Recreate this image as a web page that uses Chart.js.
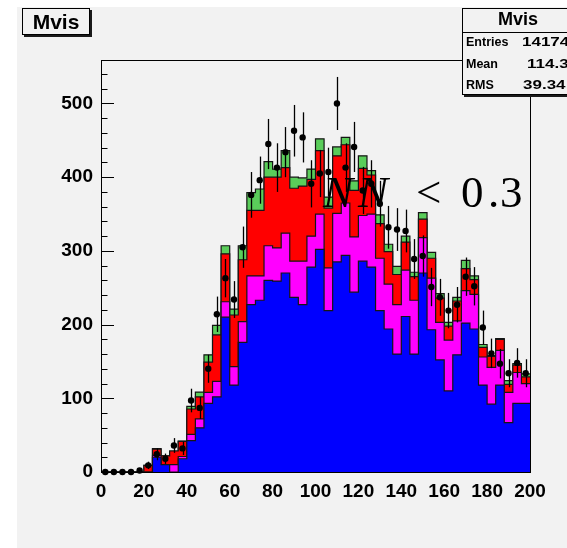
<!DOCTYPE html>
<html>
<head>
<meta charset="utf-8">
<script src="https://cdn.jsdelivr.net/npm/chart.js@4/dist/chart.umd.min.js"></script>
<style>
  html, body { margin: 0; padding: 0; background: #ffffff; }
  canvas { display: block; }
</style>
</head>
<body>
<canvas id="c" width="567" height="548"></canvas>
<script>
// Histogram binning (GeV), tick labels
const binLow = [0,4,8,12,16,20,24,28,32,36,40,44,48,52,56,60,64,68,72,76,80,84,88,92,96,
                100,104,108,112,116,120,124,128,132,136,140,144,148,152,156,160,164,168,172,176,180,184,188,192,196];
const binHigh = 200;
const xTicks = [0,20,40,60,80,100,120,140,160,180,200];
const yTicks = [0,100,200,300,400,500];

// Stacked MC components, per bin
const blue    = [0,0,0,0,0, 0,20,10,0,18, 42.5,60,93,102,210, 118,176,227,233,260, 259,270,237,227,278,
                 302,219,285,294,244, 286,278,219,194,160, 211,160,270,193,152, 110,159,202,194,118, 92,118,67,93,93];
const magenta = [0,0,0,0,0, 0,2.6,0,10,3, 8.5,12,15,21,21, 25,28,39,33,47, 45,54,49,59,42,
                 48,58,66,71,75, 62,72,71,61,67, 63,73,48,70,51, 69,46,44,47,38, 50,47,41,42,27];
const red     = [0,0,0,0,0, 9,8.4,12,18.5,20.6, 34.5,30,41,63,65, 70,84,89,89,93, 96,89,99,102,77,
                 86,81,78,79,63, 64,53,47,44,41, 38,32,25,27,33, 19,27,30,20,13, 15,15,11,10,9];
const green   = [0,0,0,0,0, 0,0.6,0,0,0.4, 3.5,6.5,10,13,11, 8,19,24,29,21, 11,23,15,11,14,
                 16,15,12,10,13, 17,6,12,10,11, 8,6,9,8,6, 5,5,11,5,4, 1,1,5,2,4];

// Observed data and its uncertainties
const dataVal = [0,0,0,0,2, 9,24,18,36,32, 97,87,140,214,263, 234,305,376,396,445, 413,434,463,454,391,
                 405,407,500,413,441, 382,391,364,332,329, 327,289,293,251,237, 219,227,265,252,196, 161,147,134,148,134];
const dataErr = [0,0,0,0,2, 5,8,7,10,9, 16,15,19,24,26, 25,28,31,32,34, 33,34,35,34,32,
                 32,33,36,33,34, 32,32,31,29,29, 29,27,28,26,25, 24,24,26,26,23, 20,20,19,20,19];

const binHi = binLow.map((x, i) => (i + 1 < binLow.length ? binLow[i + 1] : binHigh));
const centers = binLow.map((x, i) => (x + binHi[i]) / 2);

function stackOn(base, add) { return base.map((v, i) => v + add[i]); }
const cumBlue = blue.slice();
const cumMag = stackOn(cumBlue, magenta);
const cumRed = stackOn(cumMag, red);
const cumGreen = stackOn(cumRed, green);

function steps(cum) {
  const pts = binLow.map((x, i) => ({ x: x, y: cum[i] }));
  pts.push({ x: binHigh, y: cum[cum.length - 1] });
  return pts;
}

function layer(cum, color, order) {
  return {
    data: steps(cum), stepped: 'before', fill: 'origin',
    backgroundColor: color, borderColor: '#151515', borderWidth: 1.2,
    pointRadius: 0, order: order, tension: 0
  };
}

const SANS = '"Liberation Sans", Arial, Helvetica, sans-serif';
const SERIF = '"Liberation Serif", "DejaVu Serif", serif';

const decor = {
  id: 'decor',
  beforeDraw(chart) {
    const ctx = chart.ctx;
    ctx.save();
    ctx.fillStyle = '#ffffff';
    ctx.fillRect(0, 0, chart.width, chart.height);
    ctx.fillStyle = '#f2f2f2';
    ctx.fillRect(17, 7, chart.width - 17, chart.height - 7);
    ctx.restore();
  },
  afterDatasetsDraw(chart) {
    const { ctx, scales: { x, y } } = chart;
    ctx.save();
    ctx.strokeStyle = '#000';
    ctx.lineWidth = 1.3;
    dataVal.forEach((v, i) => {
      const e = dataErr[i];
      if (!e) return;
      const px = Math.round(x.getPixelForValue(centers[i])) + 0.5;
      ctx.beginPath();
      ctx.moveTo(px, y.getPixelForValue(Math.max(0, v - e)));
      ctx.lineTo(px, y.getPixelForValue(v + e));
      ctx.stroke();
    });
    ctx.restore();
  },
  afterDraw(chart) {
    const { ctx, chartArea: a, scales: { y } } = chart;
    ctx.save();
    // frame
    ctx.strokeStyle = '#000';
    ctx.lineWidth = 1;
    ctx.strokeRect(Math.round(a.left) + 0.5, Math.round(a.top) + 0.5,
                   Math.round(a.right - a.left), Math.round(a.bottom - a.top));
    // y ticks, drawn inside the frame
    for (let v = 0; v <= y.max; v += 20) {
      const py = Math.round(y.getPixelForValue(v)) + 0.5;
      const len = v % 100 === 0 ? 13 : 6.5;
      ctx.beginPath();
      ctx.moveTo(a.left, py);
      ctx.lineTo(a.left + len, py);
      ctx.stroke();
    }
    // cut label
    ctx.fillStyle = '#000';
    ctx.textBaseline = 'alphabetic';
    ctx.textAlign = 'left';
    ctx.font = 'italic 45px ' + SERIF;
    ctx.fillText('N', 323, 207);
    ctx.fillText('N', 358, 207);
    ctx.font = '45px ' + SERIF;
    ctx.fillText('<', 416, 207);
    ctx.fillText('0', 461, 207);
    ctx.fillText('.', 488, 207);
    ctx.fillText('3', 500, 207);

    // boxes with a drop shadow
    function shadowBox(x0, y0, x1, y1) {
      ctx.fillStyle = '#1a1a1a';
      ctx.fillRect(x0 + 2, y1, x1 - x0, 2);
      ctx.fillRect(x1, y0 + 2, 2, y1 - y0);
      ctx.fillStyle = '#f2f2f2';
      ctx.fillRect(x0, y0, x1 - x0, y1 - y0);
      ctx.strokeStyle = '#000';
      ctx.lineWidth = 1;
      ctx.strokeRect(x0 + 0.5, y0 + 0.5, x1 - x0 - 1, y1 - y0 - 1);
    }
    // title
    shadowBox(22, 8, 90, 35);
    ctx.fillStyle = '#000';
    ctx.font = 'bold 21px ' + SANS;
    ctx.textAlign = 'center';
    ctx.textBaseline = 'middle';
    ctx.fillText('Mvis', 56, 23);

    // statistics
    shadowBox(462, 8, 575, 95);
    ctx.strokeStyle = '#000';
    ctx.beginPath();
    ctx.moveTo(462, 32.5);
    ctx.lineTo(575, 32.5);
    ctx.stroke();
    ctx.fillStyle = '#000';
    ctx.font = 'bold 18px ' + SANS;
    ctx.fillText('Mvis', 518, 20);
    ctx.textAlign = 'left';
    ctx.font = 'bold 12.5px ' + SANS;
    const rows = [['Entries', '14174', 522, 43], ['Mean', '114.3', 527, 65], ['RMS', '39.34', 523, 86]];
    rows.forEach(r => {
      ctx.fillText(r[0], 466, r[3]);
      ctx.save();
      ctx.translate(r[2], r[3]);
      ctx.scale(1.36, 1);
      ctx.fillText(r[1], 0, 0);
      ctx.restore();
    });
    ctx.restore();
  }
};

new Chart(document.getElementById('c'), {
  type: 'line',
  data: {
    datasets: [
      layer(cumBlue, '#0000ff', 1),
      layer(cumMag, '#ff00ff', 2),
      layer(cumRed, '#ff0000', 3),
      layer(cumGreen, '#5acd5a', 4),
      {
        data: centers.map((x, i) => ({ x: x, y: dataVal[i] })),
        showLine: false, pointRadius: 3.2, pointHoverRadius: 3.2,
        pointBackgroundColor: '#000', pointBorderColor: '#000', pointBorderWidth: 0,
        order: 0, clip: false
      }
    ]
  },
  options: {
    responsive: false,
    animation: false,
    layout: { padding: { top: 60, right: 37, left: 0, bottom: 0 } },
    plugins: { legend: { display: false }, tooltip: { enabled: false } },
    scales: {
      x: {
        type: 'linear', min: 0, max: binHigh,
        grid: { display: false, drawTicks: false },
        border: { display: false },
        afterBuildTicks: s => { s.ticks = xTicks.map(v => ({ value: v })); },
        afterFit: s => { s.height = 76; },
        ticks: { padding: 8, maxRotation: 0, autoSkip: false, color: '#000',
                 font: { family: SANS, size: 19, weight: 'bold' } }
      },
      y: {
        type: 'linear', min: 0, max: 559,
        grid: { display: false, drawTicks: false },
        border: { display: false },
        afterBuildTicks: s => { s.ticks = yTicks.map(v => ({ value: v })); },
        afterFit: s => { s.width = 101; },
        ticks: { padding: 8, color: '#000',
                 font: { family: SANS, size: 19, weight: 'bold' } }
      }
    }
  },
  plugins: [decor]
});
</script>
</body>
</html>
